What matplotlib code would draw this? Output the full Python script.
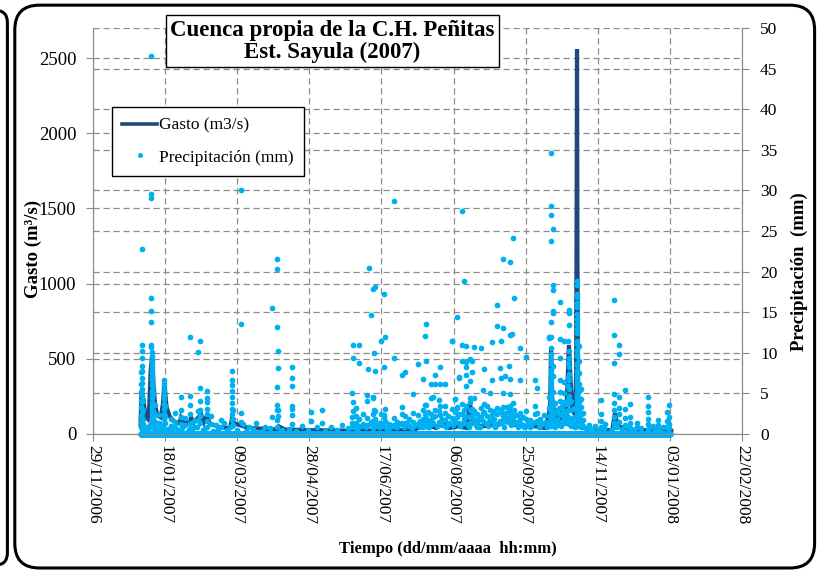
import numpy as np
import pandas as pd
import matplotlib
matplotlib.use("Agg")
import matplotlib.pyplot as plt
import matplotlib.dates as mdates
from matplotlib.patches import FancyBboxPatch
from matplotlib.lines import Line2D

plt.rcParams['font.family'] = ['Liberation Serif', 'DejaVu Serif']

# origin of the day counts below
t0 = pd.Timestamp("2007-01-01")

# gasto (m3/s), key points of the hydrograph, day of year 2007
gasto_doy = [0, 0.5, 1, 2, 3, 4, 5, 6, 7, 8, 9, 10, 11, 12, 14, 15.5, 16.5, 18, 20, 23,
             27, 28, 30, 34, 35, 37, 40, 42, 44, 46, 48, 55, 62, 63.5, 65, 70, 75, 85,
             95, 96, 100, 120, 147, 150, 155, 170, 180, 190, 198, 205, 211, 214, 220,
             226, 228.4, 230, 236, 246, 257.5, 260, 267, 274, 280, 283, 284, 284.6,
             285.2, 286, 288, 290.8, 292, 295, 297, 299, 301, 302.0, 302.4, 302.6,
             302.9, 303.3, 304, 306, 315, 327, 328.9, 331, 340, 350, 368]
gasto_m3s = [60, 250, 290, 220, 150, 110, 100, 180, 420, 520, 330, 200, 150, 120, 110,
             200, 340, 180, 120, 85, 70, 110, 80, 70, 110, 75, 110, 130, 80, 120, 70, 45,
             40, 110, 70, 55, 40, 35, 30, 50, 30, 25, 22, 45, 25, 22, 25, 30, 60, 40, 80,
             40, 50, 40, 206, 90, 50, 60, 115, 60, 55, 50, 40, 120, 200, 570, 250, 200,
             90, 182, 80, 90, 592, 180, 130, 400, 1800, 2560, 1200, 300, 150, 40, 30,
             25, 138, 50, 30, 25, 20]

# precipitación (mm): storm days and the hourly readings seen on each
storm_doy = [0.4, 0.8, 1.5, 7.2, 7.6, 8.0, 8.6, 10.0, 12.5, 16.4, 17.0, 21.0, 24.0, 28.0,
             30.5, 34.3, 37.0, 40.0, 41.4, 46.0, 48.5, 52.0, 55.5, 58.0, 63.4, 64.0,
             69.6, 71.0, 75.0, 80.0, 86.0, 91.3, 94.8, 95.3, 105.0, 112.0, 118.4, 122.5,
             125.6, 132.0, 140.0, 146.8, 147.5, 149.4, 151.6, 154.0, 157.0, 157.2, 157.7,
             158.6, 159.8, 160.9, 161.8, 162.7, 165.0, 166.7, 168.6, 169.0, 169.5, 172.0,
             175.5, 178.0, 181.4, 183.5, 186.0, 189.1, 192.1, 194.0, 195.8, 197.0, 197.7,
             199.5, 201.2, 203.0, 204.3, 206.9, 207.6, 209.0, 210.9, 213.0, 215.9, 218.2,
             219.2, 220.8, 222.9, 224.2, 225.4, 228.4, 229.8, 231.1, 233.5, 236.0, 237.6,
             238.1, 240.0, 242.5, 243.4, 245.0, 247.3, 249.2, 249.9, 251.3, 251.5, 252.9,
             253.9, 255.2, 256.1, 256.3, 257.3, 258.4, 259.1, 261.0, 263.3, 265.0, 267.4,
             270.0, 273.3, 274.9, 277.0, 280.0, 283.0, 284.4, 284.8, 285.7, 287.0, 289.0,
             290.6, 292.0, 293.6, 295.0, 296.2, 297.0, 298.5, 300.5, 302.4, 302.8, 304.0,
             305.5, 307.0, 311.0, 315.0, 319.0, 322.0, 328.5, 331.7, 336.1, 339.6, 344.0,
             351.8, 355.0, 358.9, 362.0, 365.2, 366.4]
storm_mm = [
    [7.6, 6.1, 5.2, 4.1, 3.3, 2.2, 1.5, 0.9],
    [22.8, 10.9, 10.2, 9.3, 8.4, 7.8, 6.9, 6.3, 5.5, 4.7, 3.9, 3.1, 2.6, 1.8, 1.1, 0.6],
    [4.2, 3.0, 1.9, 1.2, 0.7],
    [46.5, 29.6, 29.1, 16.7, 15.1, 13.8, 10.9, 10.7],
    [9.6, 8.8, 8.2, 7.5, 6.6, 6.0, 5.3, 4.6, 4.0, 3.3, 2.7, 2.0, 1.4, 0.8],
    [10.1, 9.0, 7.9, 7.0, 6.2, 5.1, 4.4, 3.5, 2.9, 2.1, 1.6, 1.0],
    [5.8, 4.9, 3.7, 2.8, 1.9, 1.1],
    [3.6, 2.4, 1.5, 0.8],
    [2.3, 1.4, 0.7],
    [6.6, 6.0, 5.4, 4.8, 4.3, 3.7, 3.1, 2.5, 1.9, 1.2, 0.6],
    [3.4, 2.2, 1.3],
    [1.8, 1.0],
    [2.6, 1.5, 0.8],
    [4.5, 3.0, 2.1, 1.2],
    [2.0, 1.1],
    [12.0, 4.7, 3.6, 2.5, 1.4, 0.7],
    [1.6, 0.9],
    [10.1, 2.8, 1.7],
    [11.5, 5.7, 4.1, 3.0, 2.2, 1.3],
    [5.3, 4.4, 3.9, 3.1, 2.4, 1.6, 0.9],
    [2.2, 1.2],
    [1.1],
    [1.7, 0.8],
    [1.3],
    [7.7, 6.6, 6.0, 5.3, 4.6, 3.8, 3.1, 2.4, 1.7, 1.0],
    [2.9, 1.9, 1.1],
    [30.1, 13.6, 2.6, 1.5],
    [1.2],
    [0.9],
    [1.4],
    [0.8],
    [15.5, 2.1],
    [21.6, 20.3, 13.2, 5.8, 3.6, 2.9, 1.7, 0.9],
    [10.2, 8.1, 3.0, 2.2],
    [8.2, 6.9, 5.9, 3.4, 3.1, 2.3, 1.2],
    [1.0],
    [2.7, 1.6],
    [0.9],
    [2.9, 1.3],
    [0.8],
    [1.1],
    [5.1, 2.1, 1.4, 0.8],
    [11.0, 9.3, 3.9, 2.8],
    [3.2, 2.2, 1.3],
    [11.0, 8.7, 1.8, 1.0],
    [2.4, 1.2],
    [4.1, 2.0, 1.1],
    [4.8],
    [8.0],
    [20.4],
    [14.7, 1.5],
    [17.9, 4.5, 4.4, 2.5, 1.6],
    [10.0, 2.9, 1.2],
    [18.1, 7.8, 2.8, 1.9],
    [1.4, 0.8],
    [11.5, 2.4, 1.3],
    [17.2, 8.2, 2.1],
    [2.3, 1.0],
    [11.9, 3.1, 1.6],
    [1.2, 0.7],
    [28.7, 9.3, 2.0, 1.1],
    [1.5, 0.9],
    [7.3, 3.3, 2.4, 1.3],
    [7.6, 2.2, 1.4],
    [1.8, 1.0],
    [4.9, 2.6, 1.5],
    [8.6, 2.3, 1.2],
    [1.6, 0.9],
    [6.8, 2.9, 1.8],
    [12.1, 3.6, 2.4, 1.4],
    [13.5, 9.0, 3.6, 2.0],
    [2.7, 1.6, 0.9],
    [4.4, 6.2, 2.5, 1.7],
    [4.5, 2.1, 1.3],
    [6.1, 7.3, 3.0, 2.2],
    [4.2, 2.8, 1.5],
    [8.3, 6.1, 3.4, 2.3, 1.4],
    [1.9, 1.1],
    [6.1, 3.5, 2.6, 1.7],
    [2.2, 1.2],
    [11.5, 11.4, 3.1, 2.0],
    [4.3, 4.3, 2.7, 1.5],
    [14.4, 3.2, 3.3, 2.1],
    [7.0, 6.9, 2.4, 1.3],
    [27.5, 10.9, 9.0, 3.7, 2.5],
    [18.9, 2.9, 1.8],
    [10.8, 8.9, 8.3, 5.9, 7.3, 3.4, 2.2],
    [9.2, 6.5, 4.4, 3.9, 3.0, 2.1, 1.2],
    [9.0, 7.6, 3.1, 2.3],
    [10.7, 4.4, 2.8, 1.9],
    [2.4, 1.5, 0.8],
    [10.6, 3.2, 2.1],
    [5.4, 2.6, 1.6],
    [8.0, 3.7, 2.7],
    [3.5, 2.2, 1.4],
    [5.0, 2.9, 1.7],
    [11.3, 6.7, 2.3],
    [2.8, 1.9, 1.1],
    [15.9, 13.3, 3.2, 2.4],
    [8.1, 2.7, 1.6],
    [11.5, 6.9, 3.0],
    [21.6, 13.1, 2.2],
    [5.0, 3.3, 1.5],
    [7.1, 2.6, 1.7],
    [3.3, 2.0],
    [8.4, 2.9, 1.9],
    [21.2, 12.2, 4.9, 3.4],
    [6.8, 2.5],
    [12.3, 2.0, 1.2],
    [24.1, 3.8, 2.7],
    [16.7, 3.0, 2.2, 1.4],
    [2.3, 1.5],
    [10.6, 6.7, 2.6, 1.8],
    [2.1, 1.1],
    [9.5, 2.8, 1.9, 1.0],
    [1.7, 0.9],
    [6.6, 3.4, 2.4, 1.5],
    [5.7, 2.6, 1.6],
    [1.9, 1.1],
    [2.3, 1.4],
    [11.9, 11.8, 4.6, 3.2, 2.2, 1.4],
    [12.0, 9.9, 8.6, 7.4, 6.3, 5.5, 4.4, 3.6, 2.7, 1.9, 1.0],
    [34.6, 28.1, 27.0, 23.8, 13.8, 10.6, 9.2, 7.9, 6.8, 5.8, 4.9, 3.9, 3.0, 2.1, 1.2],
    [25.3, 18.4, 17.7, 15.2, 14.9, 8.4, 7.1, 5.2, 3.4, 2.3, 1.4],
    [3.8, 2.6, 1.7, 0.9],
    [2.9, 1.8, 1.1],
    [16.3, 11.7, 9.4, 6.7, 5.2, 4.1, 3.2, 2.4, 1.5],
    [3.5, 2.3, 1.4],
    [11.5, 6.4, 5.0, 3.9, 2.8, 1.8],
    [3.7, 2.5, 1.6],
    [11.4, 8.8, 7.0, 5.9, 4.3, 3.0, 2.1],
    [15.3, 14.9, 13.4, 9.3, 10.2, 8.2, 7.4, 6.6, 5.6, 4.7, 3.8, 2.9, 2.0, 1.2],
    [4.1, 3.0, 1.9, 1.0],
    [3.2, 2.1, 1.3],
    [18.9, 18.4, 17.2, 16.1, 14.8, 13.6, 12.4, 11.5, 10.3, 9.6, 8.8, 7.9, 7.1, 6.4,
     5.7, 4.9, 4.2, 3.4, 2.6, 1.8, 1.0],
    [16.9, 15.6, 14.2, 12.9, 11.1, 9.9, 8.5, 7.6, 6.8, 6.0, 5.2, 4.5, 3.7, 2.9, 2.1, 1.3],
    [10.8, 9.0, 7.5, 6.1, 5.3, 4.0, 3.1, 2.2, 1.4],
    [5.6, 4.3, 3.3, 2.4, 1.6, 0.9],
    [2.6, 1.7, 1.0],
    [1.1, 0.6],
    [1.0],
    [4.2, 2.5, 1.6, 0.9],
    [1.2],
    [16.5, 12.2, 8.7, 4.9, 3.8, 2.9, 2.1, 1.4, 0.8],
    [10.9, 9.8, 4.5, 3.2, 2.4, 1.5],
    [5.4, 3.1, 2.0, 1.1],
    [3.7, 2.1, 1.3, 0.7],
    [1.4, 0.8],
    [4.5, 3.5, 2.7, 1.8, 1.2, 0.6],
    [1.0],
    [1.1, 1.7, 0.7],
    [0.9],
    [2.7, 1.6],
    [3.6, 2.1, 1.2, 0.7],
]

# light readings between the storms
light_doy = [2, 3.5, 5, 6.5, 9, 11, 13.5, 15, 19, 22,
             26, 29, 33, 36, 39, 43, 45, 50, 54, 60,
             62, 67, 73, 78, 84, 90, 98, 103, 108, 116,
             128, 136, 144, 148, 150, 153, 156, 159, 161, 163.5,
             166, 168, 171, 174, 177, 180, 182.5, 185, 188, 190.5,
             193, 196, 198.5, 200, 202, 205.5, 208, 211.5, 214, 216.5,
             217.5, 221.5, 223.5, 226.5, 227.5, 230.5, 232.5, 234.5, 235, 239,
             241, 244, 246, 248, 250.5, 252, 254.5, 257, 260, 262,
             264, 266, 268.5, 271, 272, 276, 278.5, 281, 282, 286.5,
             288, 291.5, 294, 299.5, 301, 303.5, 306, 309, 313, 317,
             321, 326, 330, 334, 338, 342, 347, 353, 357, 360, 364]
light_mm = [0.6, 0.9, 0.5, 1.1, 0.7, 0.4, 0.8, 0.5, 0.6, 0.4,
            0.5, 0.7, 0.4, 0.6, 0.9, 0.5, 0.7, 0.4, 0.6, 0.5,
            0.8, 0.5, 0.4, 0.6, 0.4, 0.7, 0.5, 0.6, 0.4, 0.5,
            0.4, 0.5, 0.7, 0.9, 0.6, 1.0, 0.8, 1.2, 0.7, 1.1,
            0.9, 1.3, 0.6, 1.0, 0.8, 1.2, 0.9, 1.4, 0.7, 1.1,
            1.3, 0.8, 1.5, 0.9, 1.2, 1.0, 1.6, 0.8, 1.3, 1.1,
            1.7, 1.0, 1.4, 1.2, 0.9, 1.5, 1.1, 1.8, 0.8, 1.3,
            1.0, 1.6, 0.9, 1.2, 1.4, 0.8, 1.5, 1.1, 1.3, 0.9,
            1.2, 0.8, 1.4, 1.0, 1.3, 0.9, 1.2, 1.5, 0.8, 1.6,
            1.3, 1.0, 1.4, 1.2, 0.9, 1.5, 1.1, 0.7, 0.6, 0.5,
            0.7, 0.5, 0.9, 0.6, 0.8, 0.5, 0.7, 0.9, 0.5, 0.6, 0.8]

# hourly record period (dry hours read 0 mm)
rec_start, rec_end = "2007-01-01 00:00", "2008-01-03 00:00"

dark_blue = "#1F497D"
light_blue = "#00B0F0"
grid_col = "#8C8C8C"
ms = 4.1

g_time = t0 + pd.to_timedelta(gasto_doy, unit="D")
p_doy = [d for d, vals in zip(storm_doy, storm_mm) for v in vals] + light_doy
p_val = [v for vals in storm_mm for v in vals] + light_mm
p_time = t0 + pd.to_timedelta(p_doy, unit="D")
dry_time = pd.date_range(rec_start, rec_end, freq="h")

fig = plt.figure(figsize=(8.22, 5.72), dpi=100)
ax = fig.add_axes([0.1131, 0.2413, 0.7896, 0.7097])
ax2 = ax.twinx()

x0 = pd.Timestamp("2006-11-29")
x1 = pd.Timestamp("2008-02-22")
ax.set_xlim(x0, x1)
ax.set_ylim(0, 2700)
ax2.set_ylim(0, 50)
ax.set_yticks(range(0, 2501, 500))
ax2.set_yticks(range(0, 51, 5))
ax.set_xticks(pd.date_range(x0, x1, freq="50D"))
ax.xaxis.set_major_formatter(mdates.DateFormatter("%d/%m/%Y"))

# both grids on the lower axes so the series stay on top
ax.grid(True, ls=(0, (5, 3)), color=grid_col, lw=0.9)
for t in ax2.get_yticks()[1:]:
    ax.axhline(t * 2700 / 50, ls=(0, (5, 3)), color=grid_col, lw=0.9, zorder=0.5)
ax.set_axisbelow(True)

ax.plot(g_time, gasto_m3s, color=dark_blue, lw=3.0, solid_joinstyle="miter", zorder=3)
ax2.plot(dry_time, np.zeros(len(dry_time)), "o", color=light_blue, ms=ms, mew=0,
         clip_on=False)
ax2.plot(p_time, p_val, "o", color=light_blue, ms=ms, mew=0, clip_on=False)

for a in (ax, ax2):
    for s in a.spines.values():
        s.set_color(grid_col)
    a.spines["top"].set_visible(False)
ax.tick_params(axis="x", labelrotation=270, labelsize=12.5, length=5, color=grid_col, pad=3)
ax.tick_params(axis="y", labelsize=13.5, length=5, color=grid_col, pad=7)
ax2.tick_params(axis="y", labelsize=12.5, length=5, color=grid_col, pad=8)
for lab in ax.get_xticklabels():
    lab.set_ha("center")

handles = [Line2D([], [], color=dark_blue, lw=2.6),
           Line2D([], [], ls="", marker="o", color=light_blue, ms=3.6, mew=0)]
leg = ax2.legend(handles, ["Gasto (m3/s)", "Precipitación (mm)"], loc="upper left",
                 bbox_to_anchor=(0.029, 0.805), borderaxespad=0, fontsize=12.5,
                 fancybox=False, edgecolor="black", framealpha=1, handlelength=2.0,
                 handletextpad=0.1, labelspacing=0.9, borderpad=0.6)
leg.get_frame().set_linewidth(1.0)

fig.text(0.4045, 0.928, "Cuenca propia de la C.H. Peñitas\nEst. Sayula (2007)",
         ha="center", va="center", fontsize=16.5, fontweight="bold", linespacing=1.05,
         bbox=dict(boxstyle="square,pad=0.2", fc="white", ec="black", lw=1.0))
fig.text(0.040, 0.565, "Gasto (m³/s)", rotation=90, ha="center", va="center",
         fontsize=13.5, fontweight="bold")
fig.text(0.972, 0.526, "Precipitación  (mm)", rotation=90, ha="center", va="center",
         fontsize=13.5, fontweight="bold")
fig.text(0.545, 0.040, "Tiempo (dd/mm/aaaa  hh:mm)", ha="center", va="center",
         fontsize=12, fontweight="bold")

# rounded chart frames
fig.patches.append(FancyBboxPatch((0.018, 0.007), 0.973, 0.984,
                                  boxstyle="round,pad=0,rounding_size=0.03",
                                  transform=fig.transFigure, fill=False,
                                  ec="black", lw=2.2, mutation_aspect=822 / 572))
fig.patches.append(FancyBboxPatch((-0.2, 0.012), 0.209, 0.97,
                                  boxstyle="round,pad=0,rounding_size=0.015",
                                  transform=fig.transFigure, fill=False,
                                  ec="black", lw=2.2, mutation_aspect=822 / 572))

fig.savefig("out.png", dpi=100)
